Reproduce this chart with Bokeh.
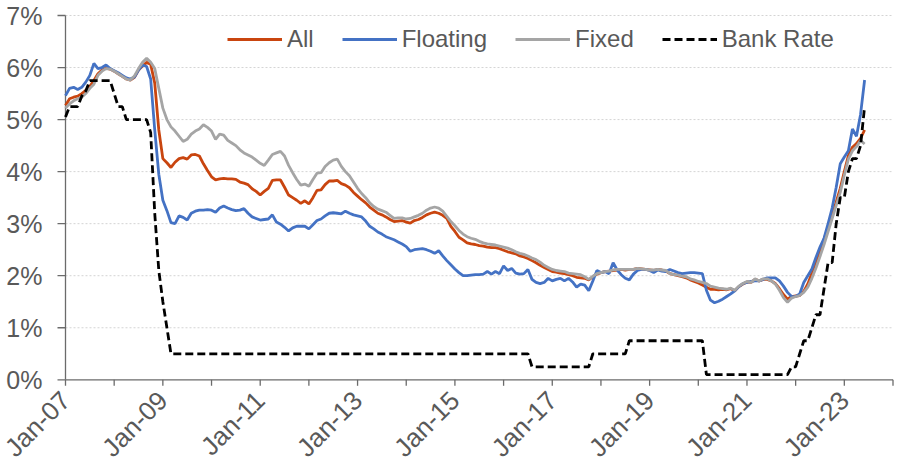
import numpy as np
from bokeh.plotting import figure
from bokeh.models import Range1d, Legend, LegendItem
from bokeh.core.properties import value
from bokeh.embed import file_html
from bokeh.resources import INLINE

# Monthly series, Jan-07 .. Jun-23 (one row per year), values in %
ALL = [
    5.27, 5.40, 5.43, 5.45, 5.50, 5.56, 5.64, 5.75, 5.88, 5.95, 5.99, 5.97,
    5.93, 5.88, 5.83, 5.78, 5.76, 5.81, 5.95, 6.03, 6.10, 6.06, 5.70, 4.80,
    4.25, 4.17, 4.08, 4.18, 4.25, 4.27, 4.24, 4.32, 4.33, 4.30, 4.15, 4.02,
    3.90, 3.84, 3.86, 3.87, 3.86, 3.86, 3.85, 3.80, 3.78, 3.75, 3.67, 3.62,
    3.55, 3.62, 3.68, 3.83, 3.84, 3.84, 3.70, 3.55, 3.50, 3.45, 3.39, 3.44,
    3.38, 3.50, 3.64, 3.65, 3.75, 3.82, 3.82, 3.83, 3.77, 3.74, 3.69, 3.60,
    3.53, 3.46, 3.40, 3.32, 3.26, 3.20, 3.17, 3.13, 3.08, 3.04, 3.05, 3.06,
    3.03, 3.01, 3.06, 3.08, 3.12, 3.17, 3.20, 3.22, 3.20, 3.16, 3.10, 2.95,
    2.85, 2.74, 2.69, 2.63, 2.61, 2.60, 2.58, 2.57, 2.55, 2.54, 2.54, 2.52,
    2.49, 2.46, 2.44, 2.42, 2.38, 2.36, 2.33, 2.29, 2.25, 2.20, 2.16, 2.12,
    2.08, 2.07, 2.05, 2.04, 2.02, 2.00, 1.97, 1.96, 1.95, 1.92, 1.98, 2.03,
    2.06, 2.08, 2.09, 2.10, 2.11, 2.12, 2.11, 2.12, 2.12, 2.14, 2.13, 2.12,
    2.11, 2.10, 2.12, 2.11, 2.09, 2.04, 2.02, 2.00, 1.98, 1.96, 1.92, 1.89,
    1.86, 1.82, 1.78, 1.74, 1.74, 1.73, 1.74, 1.73, 1.75, 1.71, 1.79, 1.84,
    1.88, 1.87, 1.93, 1.90, 1.93, 1.93, 1.90, 1.85, 1.75, 1.64, 1.55, 1.60,
    1.61, 1.62, 1.70, 1.84, 2.05, 2.27, 2.45, 2.70, 2.92, 3.15, 3.42, 3.68,
    4.00, 4.31, 4.47, 4.54, 4.64, 4.80,
]

FLOATING = [
    5.46, 5.60, 5.62, 5.58, 5.62, 5.72, 5.85, 6.08, 5.98, 6.00, 6.05, 5.98,
    5.94, 5.90, 5.85, 5.80, 5.78, 5.82, 5.95, 6.05, 6.02, 5.78, 4.80, 3.95,
    3.45, 3.25, 3.02, 3.00, 3.15, 3.12, 3.07, 3.20, 3.24, 3.26, 3.26, 3.27,
    3.26, 3.22, 3.30, 3.34, 3.30, 3.27, 3.25, 3.26, 3.29, 3.20, 3.13, 3.10,
    3.07, 3.08, 3.09, 3.17, 3.03, 2.99, 2.93, 2.86, 2.92, 2.95, 2.95, 2.95,
    2.90, 2.98, 3.06, 3.09, 3.15, 3.20, 3.21, 3.20, 3.19, 3.24, 3.20, 3.17,
    3.15, 3.13, 3.05, 2.95, 2.90, 2.84, 2.80, 2.75, 2.72, 2.69, 2.65, 2.61,
    2.56, 2.47, 2.50, 2.51, 2.52, 2.50, 2.47, 2.43, 2.48, 2.38, 2.29, 2.21,
    2.13, 2.06, 2.00, 2.00, 2.01, 2.02, 2.02, 2.03, 2.08, 2.03, 2.08, 2.04,
    2.19, 2.10, 2.14, 2.05, 2.03, 2.04, 2.12, 1.93, 1.87, 1.85, 1.87, 1.95,
    1.90, 1.93, 1.95, 1.90, 1.95, 1.88, 1.78, 1.84, 1.82, 1.71, 1.90, 2.10,
    2.06, 2.08, 2.04, 2.25, 2.11, 2.02, 1.95, 1.92, 2.03, 2.10, 2.12, 2.12,
    2.10, 2.06, 2.11, 2.09, 2.08, 2.12, 2.09, 2.06, 2.04, 2.05, 2.06, 2.06,
    2.05, 2.04, 1.72, 1.53, 1.48, 1.51, 1.55, 1.60, 1.65, 1.71, 1.79, 1.85,
    1.87, 1.89, 1.90, 1.90, 1.93, 1.96, 1.96, 1.96, 1.90, 1.80, 1.68, 1.60,
    1.60, 1.65, 1.87, 2.00, 2.13, 2.35, 2.55, 2.72, 3.00, 3.30, 3.70, 4.15,
    4.28, 4.40, 4.82, 4.68, 5.10, 5.76,
]

FIXED = [
    5.22, 5.30, 5.36, 5.40, 5.43, 5.50, 5.60, 5.68, 5.85, 5.93, 5.98, 5.97,
    5.93, 5.88, 5.83, 5.78, 5.76, 5.84, 5.98, 6.10, 6.18, 6.10, 5.98, 5.60,
    5.22, 5.00, 4.86, 4.78, 4.68, 4.58, 4.62, 4.72, 4.78, 4.82, 4.90, 4.85,
    4.78, 4.62, 4.72, 4.70, 4.60, 4.55, 4.50, 4.42, 4.36, 4.32, 4.28, 4.22,
    4.16, 4.12, 4.22, 4.33, 4.36, 4.39, 4.30, 4.12, 3.98, 3.85, 3.74, 3.76,
    3.72, 3.85, 3.97, 3.98, 4.10, 4.17, 4.22, 4.24, 4.10, 4.00, 3.92, 3.80,
    3.68, 3.58, 3.50, 3.40, 3.33, 3.28, 3.25, 3.22, 3.16, 3.10, 3.11, 3.11,
    3.09, 3.10, 3.13, 3.16, 3.20, 3.26, 3.30, 3.32, 3.30, 3.24, 3.14, 3.04,
    2.96, 2.87, 2.80, 2.75, 2.72, 2.70, 2.66, 2.63, 2.61, 2.60, 2.59, 2.57,
    2.55, 2.53, 2.50, 2.46, 2.43, 2.41, 2.38, 2.34, 2.31, 2.26, 2.20, 2.16,
    2.12, 2.10, 2.09, 2.08, 2.05, 2.04, 2.03, 2.02, 1.98, 1.93, 1.99, 2.04,
    2.06, 2.08, 2.09, 2.11, 2.12, 2.12, 2.12, 2.12, 2.12, 2.14, 2.13, 2.12,
    2.11, 2.11, 2.12, 2.11, 2.10, 2.04, 2.02, 2.01, 1.99, 1.98, 1.94, 1.92,
    1.89, 1.87, 1.85, 1.80, 1.78, 1.76, 1.75, 1.74, 1.76, 1.72, 1.80, 1.85,
    1.89, 1.87, 1.94, 1.90, 1.94, 1.94, 1.90, 1.84, 1.72, 1.58, 1.49, 1.57,
    1.60, 1.62, 1.68, 1.78, 1.95, 2.15, 2.37, 2.60, 2.85, 3.10, 3.35, 3.60,
    3.93, 4.24, 4.40, 4.48, 4.60, 4.53,
]

BANK_RATE = [
    5.05, 5.25, 5.25, 5.25, 5.45, 5.55, 5.75, 5.75, 5.75, 5.75, 5.75, 5.75,
    5.50, 5.25, 5.25, 5.00, 5.00, 5.00, 5.00, 5.00, 5.00, 4.75, 3.20, 2.10,
    1.50, 1.00, 0.50, 0.50, 0.50, 0.50, 0.50, 0.50, 0.50, 0.50, 0.50, 0.50,
    0.50, 0.50, 0.50, 0.50, 0.50, 0.50, 0.50, 0.50, 0.50, 0.50, 0.50, 0.50,
    0.50, 0.50, 0.50, 0.50, 0.50, 0.50, 0.50, 0.50, 0.50, 0.50, 0.50, 0.50,
    0.50, 0.50, 0.50, 0.50, 0.50, 0.50, 0.50, 0.50, 0.50, 0.50, 0.50, 0.50,
    0.50, 0.50, 0.50, 0.50, 0.50, 0.50, 0.50, 0.50, 0.50, 0.50, 0.50, 0.50,
    0.50, 0.50, 0.50, 0.50, 0.50, 0.50, 0.50, 0.50, 0.50, 0.50, 0.50, 0.50,
    0.50, 0.50, 0.50, 0.50, 0.50, 0.50, 0.50, 0.50, 0.50, 0.50, 0.50, 0.50,
    0.50, 0.50, 0.50, 0.50, 0.50, 0.50, 0.50, 0.25, 0.25, 0.25, 0.25, 0.25,
    0.25, 0.25, 0.25, 0.25, 0.25, 0.25, 0.25, 0.25, 0.25, 0.25, 0.50, 0.50,
    0.50, 0.50, 0.50, 0.50, 0.50, 0.50, 0.50, 0.75, 0.75, 0.75, 0.75, 0.75,
    0.75, 0.75, 0.75, 0.75, 0.75, 0.75, 0.75, 0.75, 0.75, 0.75, 0.75, 0.75,
    0.75, 0.75, 0.10, 0.10, 0.10, 0.10, 0.10, 0.10, 0.10, 0.10, 0.10, 0.10,
    0.10, 0.10, 0.10, 0.10, 0.10, 0.10, 0.10, 0.10, 0.10, 0.10, 0.10, 0.25,
    0.25, 0.50, 0.75, 0.75, 1.00, 1.25, 1.25, 1.75, 2.25, 2.25, 3.00, 3.50,
    3.50, 4.00, 4.25, 4.25, 4.50, 5.25,
]

# month offsets from Jan-07
MONTHS = list(range(len(ALL)))

X_TICKS = [0, 24, 48, 72, 96, 120, 144, 168, 192]
X_TICK_LABELS = ["Jan-07", "Jan-09", "Jan-11", "Jan-13", "Jan-15",
                 "Jan-17", "Jan-19", "Jan-21", "Jan-23"]
X_MINOR_TICKS = [0, 12, 24, 36, 48, 60, 72, 84, 96, 108, 120, 132, 144,
                 156, 168, 180, 192, 204]
X_END = 204
Y_TICKS = [0, 1, 2, 3, 4, 5, 6, 7]
Y_TICK_LABELS = ["0%", "1%", "2%", "3%", "4%", "5%", "6%", "7%"]
GRID_LEVELS = [1, 2, 3, 4, 5, 6, 7]

FONT = "Liberation Sans"
TEXT_COLOR = "#595959"
AXIS_COLOR = "#6b6b6b"
LINE_W = 2.8

W, H = 899, 469
# plot area inside the canvas (px): axis at left, Jan-24 at right, 7% top, 0%
PX_LEFT, PX_RIGHT, PX_TOP, PX_ZERO = 65, 892.5, 15, 379.3
x_scale = (PX_RIGHT - PX_LEFT) / X_END          # px per month
y_scale = (PX_ZERO - PX_TOP) / Y_TICKS[-1]      # px per percentage point

# The frame fills the whole canvas, the axes are drawn as glyphs so that the
# rotated date labels can hang below the plot area like in the original.
p = figure(
    width=W, height=H,
    x_range=Range1d(-PX_LEFT / x_scale, (W - PX_LEFT) / x_scale),
    y_range=Range1d(-(H - PX_ZERO) / y_scale, PX_ZERO / y_scale),
    output_backend="svg", toolbar_location=None,
    min_border=0,
)
p.outline_line_color = None
p.background_fill_color = "white"
p.xaxis.visible = False
p.yaxis.visible = False
p.xgrid.visible = False
p.ygrid.visible = False

# dotted horizontal gridlines across the plot area only
p.segment(x0=[0] * len(GRID_LEVELS), x1=[X_END] * len(GRID_LEVELS),
          y0=GRID_LEVELS, y1=GRID_LEVELS,
          line_color="#D4D4D4", line_dash="2 2", line_width=1)

# axis lines
p.segment(x0=[0, 0], y0=[0, 0], x1=[X_END, 0], y1=[0, Y_TICKS[-1]],
          line_color=AXIS_COLOR, line_width=1.3)

# x ticks (every year, 6 px down) and y ticks (8 px left)
n_xt = len(X_MINOR_TICKS)
p.segment(x0=X_MINOR_TICKS, x1=X_MINOR_TICKS,
          y0=[0] * n_xt, y1=[-6 / y_scale] * n_xt,
          line_color=AXIS_COLOR, line_width=1.3)
n_yt = len(Y_TICKS)
p.segment(x0=[0] * n_yt, x1=[-8 / x_scale] * n_yt, y0=Y_TICKS, y1=Y_TICKS,
          line_color=AXIS_COLOR, line_width=1.3)

# tick labels
p.text(x=X_TICKS, y=[-16 / y_scale] * len(X_TICKS), text=X_TICK_LABELS,
       angle=np.pi / 4, text_align="right", text_baseline="middle",
       text_font=value(FONT), text_font_size="26px", text_color=TEXT_COLOR)
p.text(x=[-23 / x_scale] * n_yt, y=Y_TICKS, text=Y_TICK_LABELS,
       text_align="right", text_baseline="middle",
       text_font=value(FONT), text_font_size="25px", text_color=TEXT_COLOR)

# series
r_all = p.line(MONTHS, ALL, line_color="#C9450F", line_width=LINE_W)
r_flt = p.line(MONTHS, FLOATING, line_color="#4472C4", line_width=LINE_W)
r_fix = p.line(MONTHS, FIXED, line_color="#A5A5A5", line_width=LINE_W)
r_bank = p.line(MONTHS, BANK_RATE, line_color="black", line_width=LINE_W,
                line_dash="8 4")

legend = Legend(
    items=[
        LegendItem(label="All", renderers=[r_all]),
        LegendItem(label="Floating", renderers=[r_flt]),
        LegendItem(label="Fixed", renderers=[r_fix]),
        LegendItem(label="Bank Rate", renderers=[r_bank]),
    ],
    orientation="horizontal",
    location=(227, 416),
    border_line_color=None,
    background_fill_alpha=0,
    padding=0, margin=0, spacing=28,
    glyph_width=55, glyph_height=20, label_height=24,
    label_standoff=5,
    label_text_font=FONT,
    label_text_font_size="24px",
    label_text_color=TEXT_COLOR,
)
p.add_layout(legend)

open("out.html", "w").write(file_html(p, INLINE))
